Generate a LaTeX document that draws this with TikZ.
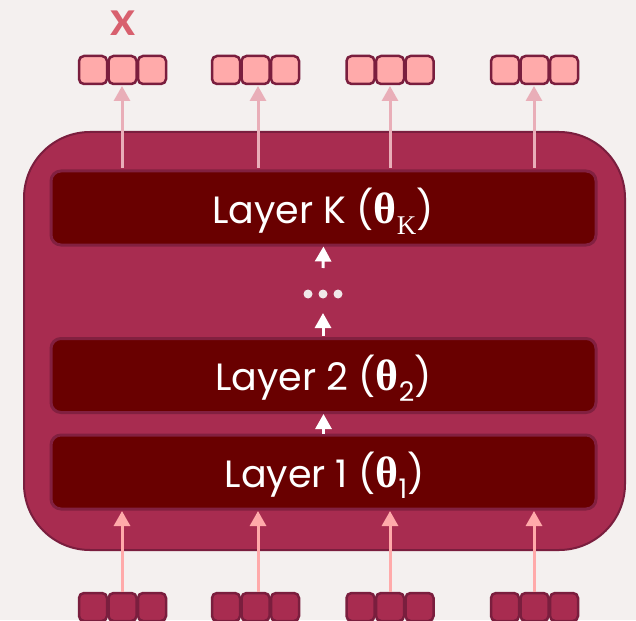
\documentclass[tikz,border=0pt]{standalone}
\usepackage{fontspec}
\setmainfont{Poppins}
\newfontfamily\thetafont{Liberation Serif}
\newfontfamily\xfont{Lato}
\usetikzlibrary{arrows.meta}
\definecolor{bgc}{HTML}{F4F0EF}
\definecolor{outerc}{HTML}{A82C50}
\definecolor{outerd}{HTML}{7A1E3E}
\definecolor{layerc}{HTML}{690000}
\definecolor{layerd}{HTML}{822040}
\definecolor{vecpink}{HTML}{FFAAAA}
\definecolor{toparr}{HTML}{E9AEB8}
\definecolor{xlab}{HTML}{D8606E}
\definecolor{dotc}{HTML}{F0E8E8}
\newcommand{\thsub}[1]{{\fontsize{44}{46}\selectfont\thetafont\bfseries θ}\raisebox{-0.3em}{\fontsize{27}{29}\selectfont #1}}
\tikzset{
  outerbox/.style={draw=outerd, line width=2pt, fill=outerc, rounded corners=66pt,
    minimum width=601pt, minimum height=418pt, inner sep=0pt},
  layerbox/.style={draw=layerd, line width=3pt, fill=layerc, rounded corners=10pt,
    minimum width=545pt, minimum height=74pt, inner sep=0pt},
  layertext/.style={text=white, font=\fontsize{38}{42}\selectfont, anchor=base, inner sep=0pt},
  cell/.style={draw=outerd, line width=2.5pt, rounded corners=5pt,
    minimum width=28pt, minimum height=28pt, inner sep=0pt},
  topcell/.style={cell, fill=vecpink},
  botcell/.style={cell, fill=outerc},
  toparrow/.style={draw=toparr, line width=3pt, -{Triangle[width=16pt,length=15pt]}},
  botarrow/.style={draw=vecpink, line width=3pt, -{Triangle[width=16pt,length=15pt]}},
  whitearrow/.style={draw=white, line width=3pt, -{Triangle[width=16pt,length=15pt]}},
  dotnode/.style={circle, fill=dotc, minimum size=9pt, inner sep=0pt},
}
\begin{document}
\begin{tikzpicture}[x=1pt,y=-1pt]
\fill[bgc] (0,0) rectangle (636,620);
\useasboundingbox (0,0) rectangle (636,620);
\node[text=xlab, font=\fontsize{48}{52}\selectfont\xfont\bfseries, anchor=base, inner sep=0pt, text height=24pt, text depth=0pt] (xl) at (123.5,36) {x};
\begin{scope}
\clip (0,0) rectangle (636,620);
\node[outerbox] (outer) at (324.5,341) {};
\node[layerbox] (lk) at (323.5,208) {};
\node[layerbox] (l2) at (323.5,375.5) {};
\node[layerbox] (l1) at (323.5,472) {};
\node[layertext] (tk) at (323,223) {Layer K (\thsub{{\thetafont K}})};
\node[layertext] (t2) at (323.5,390) {Layer 2 (\thsub{2})};
\node[layertext] (t1) at (324.5,487) {Layer 1 (\thsub{1})};
\node[dotnode] (d1) at (308,294) {};
\node[dotnode] (d2) at (323,294) {};
\node[dotnode] (d3) at (338,294) {};
\coordinate (dk) at (323,268);
\coordinate (d2b) at (323,336);
\coordinate (d2t) at (323,313);
\draw[whitearrow] (l1.north) -- (l2.south);
\draw[whitearrow] (d2b) -- (d2t);
\draw[whitearrow] (dk) -- (lk.south);
\foreach \i/\cx in {1/122.5,2/255.5,3/390,4/534.5}{
  \node[topcell] (ta\i) at (\cx-29.5,70) {};
  \node[topcell] (tb\i) at (\cx,70) {};
  \node[topcell] (tc\i) at (\cx+29.5,70) {};
  \node[botcell] (ba\i) at (\cx-29.5,607) {};
  \node[botcell] (bb\i) at (\cx,607) {};
  \node[botcell] (bc\i) at (\cx+29.5,607) {};
}
\foreach \i/\ax in {1/122,2/258,3/390,4/534}{
  \coordinate (tt\i) at (\ax,86);
  \coordinate (tl\i) at (\ax,168);
  \coordinate (bt\i) at (\ax,592);
  \coordinate (bl\i) at (\ax,511);
  \draw[toparrow] (tl\i) -- (tt\i);
  \draw[botarrow] (bt\i) -- (bl\i);
}
\end{scope}
\end{tikzpicture}
\end{document}
